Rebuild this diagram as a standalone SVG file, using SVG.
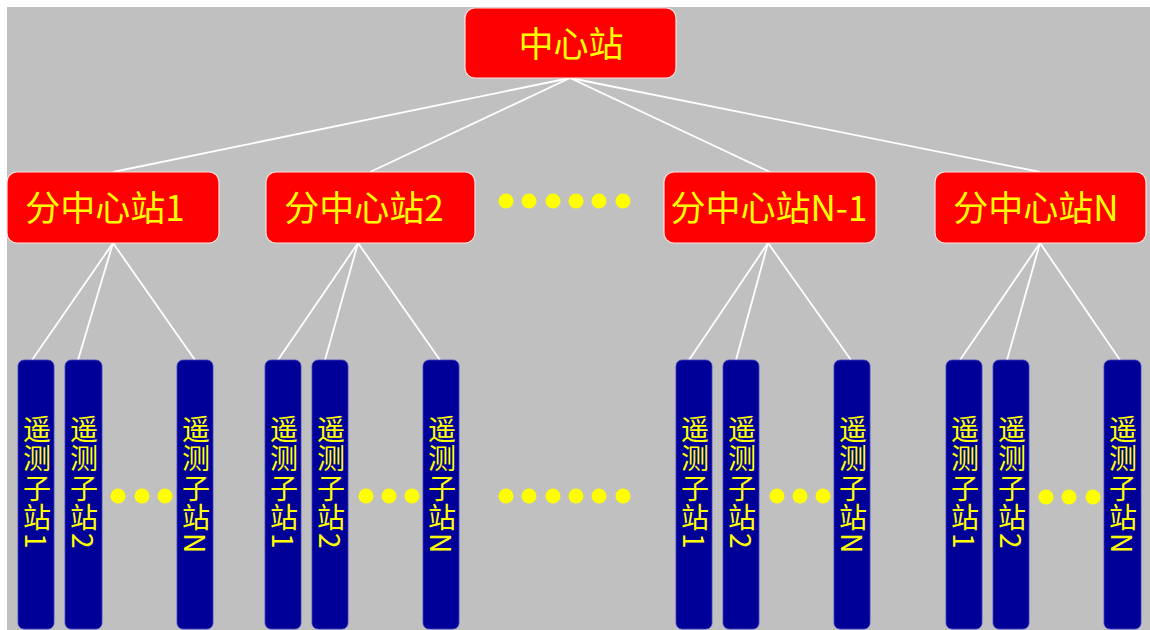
<svg xmlns="http://www.w3.org/2000/svg" width="1150" height="630" viewBox="0 0 1150 630">
<style>
.hub{fill:#FF0000;stroke:#FFE0E0;stroke-width:1.2}
.ht{fill:#FFFF00;font-family:"Noto Sans CJK SC","Noto Sans CJK JP",sans-serif;font-size:35px;text-anchor:middle;dominant-baseline:central}
.bar{fill:#000099;stroke:#4040C0;stroke-width:0.8}
.bt{fill:#FFFF00;font-family:"Noto Sans CJK SC","Noto Sans CJK JP",sans-serif;font-size:28px;writing-mode:vertical-rl;letter-spacing:1.5px}
.dot{fill:#FFFF00}
.ln{stroke:#FFFFFF;stroke-width:1.8;fill:none}
</style>
<rect x="0" y="0" width="1150" height="630" fill="#FFFFFF"/>
<rect x="7" y="7" width="1143" height="623" fill="#C0C0C0"/>
<g id="connectors">
<line class="ln" x1="570" y1="78" x2="113" y2="172"/>
<line class="ln" x1="570" y1="78" x2="370" y2="172"/>
<line class="ln" x1="570" y1="78" x2="770" y2="172"/>
<line class="ln" x1="570" y1="78" x2="1040" y2="172"/>
<line class="ln" x1="113" y1="243" x2="32" y2="360"/>
<line class="ln" x1="113" y1="243" x2="78" y2="360"/>
<line class="ln" x1="113" y1="243" x2="195" y2="360"/>
<line class="ln" x1="358" y1="243" x2="278" y2="360"/>
<line class="ln" x1="358" y1="243" x2="325" y2="360"/>
<line class="ln" x1="358" y1="243" x2="440" y2="360"/>
<line class="ln" x1="768" y1="243" x2="689" y2="360"/>
<line class="ln" x1="768" y1="243" x2="736" y2="360"/>
<line class="ln" x1="768" y1="243" x2="851" y2="360"/>
<line class="ln" x1="1040" y1="243" x2="960" y2="360"/>
<line class="ln" x1="1040" y1="243" x2="1007" y2="360"/>
<line class="ln" x1="1040" y1="243" x2="1120" y2="360"/>
</g>
<g id="center">
<rect class="hub" x="465" y="8" width="211" height="70" rx="10"/>
<text class="ht" x="571" y="41">中心站</text>
</g>
<g id="sub1">
<rect class="hub" x="7" y="172" width="212" height="71" rx="10"/>
<text class="ht" x="105" y="205">分中心站1</text>
</g>
<g id="sub2">
<rect class="hub" x="266" y="172" width="209" height="71" rx="10"/>
<text class="ht" x="364" y="205">分中心站2</text>
</g>
<g id="subN1">
<rect class="hub" x="664" y="172" width="212" height="71" rx="10"/>
<text class="ht" x="769" y="205">分中心站N-1</text>
</g>
<g id="subN">
<rect class="hub" x="935" y="172" width="211" height="71" rx="10"/>
<text class="ht" x="1036" y="205">分中心站N</text>
</g>
<g id="dots-top">
<circle class="dot" cx="506" cy="201" r="7.5"/>
<circle class="dot" cx="529" cy="201" r="7.5"/>
<circle class="dot" cx="553" cy="201" r="7.5"/>
<circle class="dot" cx="576" cy="201" r="7.5"/>
<circle class="dot" cx="599" cy="201" r="7.5"/>
<circle class="dot" cx="623" cy="201" r="7.5"/>
</g>
<g id="dots-mid">
<circle class="dot" cx="506" cy="496" r="7.5"/>
<circle class="dot" cx="529" cy="496" r="7.5"/>
<circle class="dot" cx="553" cy="496" r="7.5"/>
<circle class="dot" cx="576" cy="496" r="7.5"/>
<circle class="dot" cx="599" cy="496" r="7.5"/>
<circle class="dot" cx="623" cy="496" r="7.5"/>
</g>
<g id="g1-rtu1"><rect class="bar" x="18" y="360" width="36" height="269" rx="6"/><text class="bt" x="37" y="415">遥测子站1</text></g>
<g id="g1-rtu2"><rect class="bar" x="65" y="360" width="37" height="269" rx="6"/><text class="bt" x="84" y="415">遥测子站2</text></g>
<g id="g1-rtuN"><rect class="bar" x="177" y="360" width="36" height="269" rx="6"/><text class="bt" x="196" y="415">遥测子站N</text></g>
<g id="g1-dots"><circle class="dot" cx="118" cy="496" r="7.5"/><circle class="dot" cx="142" cy="496" r="7.5"/><circle class="dot" cx="165" cy="496" r="7.5"/></g>
<g id="g2-rtu1"><rect class="bar" x="265" y="360" width="36" height="269" rx="6"/><text class="bt" x="284" y="415">遥测子站1</text></g>
<g id="g2-rtu2"><rect class="bar" x="312" y="360" width="36" height="269" rx="6"/><text class="bt" x="331" y="415">遥测子站2</text></g>
<g id="g2-rtuN"><rect class="bar" x="423" y="360" width="36" height="269" rx="6"/><text class="bt" x="442" y="415">遥测子站N</text></g>
<g id="g2-dots"><circle class="dot" cx="366" cy="496" r="7.5"/><circle class="dot" cx="389" cy="496" r="7.5"/><circle class="dot" cx="412" cy="496" r="7.5"/></g>
<g id="g3-rtu1"><rect class="bar" x="676" y="360" width="36" height="269" rx="6"/><text class="bt" x="695" y="415">遥测子站1</text></g>
<g id="g3-rtu2"><rect class="bar" x="723" y="360" width="36" height="269" rx="6"/><text class="bt" x="742" y="415">遥测子站2</text></g>
<g id="g3-rtuN"><rect class="bar" x="834" y="360" width="36" height="269" rx="6"/><text class="bt" x="853" y="415">遥测子站N</text></g>
<g id="g3-dots"><circle class="dot" cx="777" cy="496" r="7.5"/><circle class="dot" cx="800" cy="496" r="7.5"/><circle class="dot" cx="823" cy="496" r="7.5"/></g>
<g id="g4-rtu1"><rect class="bar" x="946" y="360" width="36" height="269" rx="6"/><text class="bt" x="965" y="415">遥测子站1</text></g>
<g id="g4-rtu2"><rect class="bar" x="993" y="360" width="36" height="269" rx="6"/><text class="bt" x="1012" y="415">遥测子站2</text></g>
<g id="g4-rtuN"><rect class="bar" x="1104" y="360" width="37" height="269" rx="6"/><text class="bt" x="1123" y="415">遥测子站N</text></g>
<g id="g4-dots"><circle class="dot" cx="1046" cy="497" r="7.5"/><circle class="dot" cx="1069" cy="497" r="7.5"/><circle class="dot" cx="1093" cy="497" r="7.5"/></g>
</svg>
